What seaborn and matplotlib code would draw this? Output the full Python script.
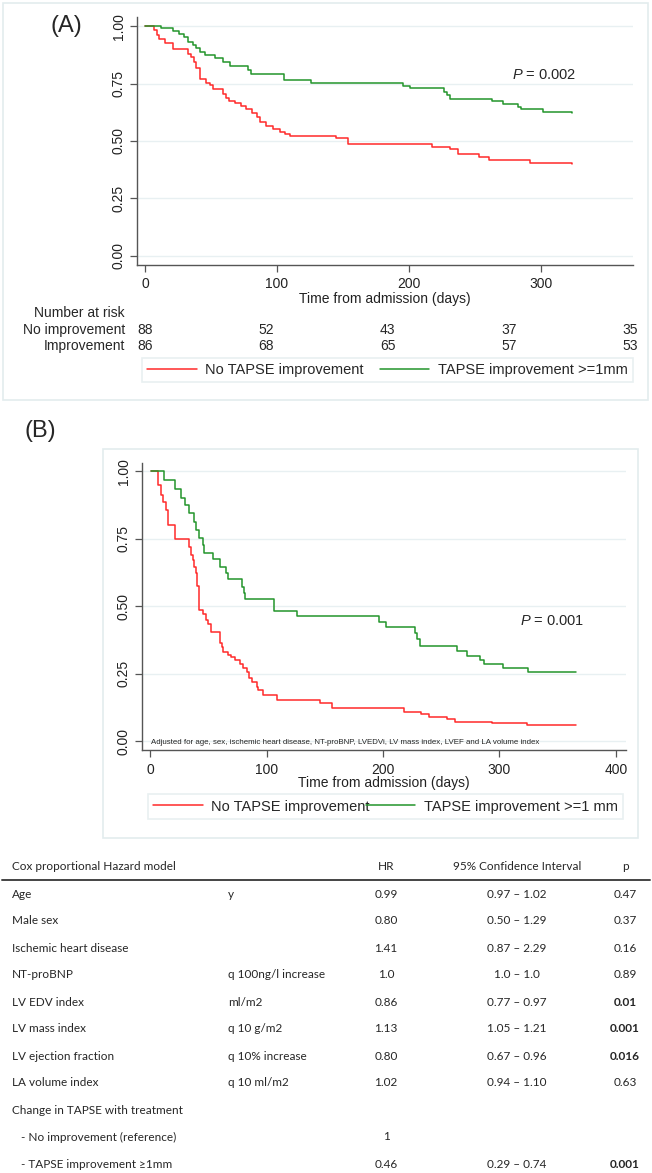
import matplotlib
matplotlib.use("Agg")
import matplotlib.pyplot as plt
import matplotlib.transforms as mtrans
from matplotlib.patches import Rectangle
from matplotlib.lines import Line2D
import pandas as pd
import seaborn as sns

# ---- Panel A: unadjusted Kaplan-Meier estimates ----
a_no_t = [0, 6.8, 8.9, 11, 15, 21, 33, 35, 37, 39, 42, 46, 49, 51.5, 59.5, 61.5, 63.5,
          68, 73, 77, 81, 85, 87, 92, 97, 102.5, 106.5, 110, 145, 154, 218, 231.5,
          237.5, 253, 260.5, 292, 324]
a_no_s = [1.0, 0.983, 0.96, 0.946, 0.925, 0.899, 0.881, 0.864, 0.845, 0.816, 0.768,
          0.754, 0.742, 0.725, 0.704, 0.686, 0.675, 0.664, 0.652, 0.638, 0.623, 0.606,
          0.584, 0.565, 0.551, 0.540, 0.530, 0.522, 0.512, 0.487, 0.475, 0.464, 0.442,
          0.432, 0.417, 0.406, 0.400]
a_yes_t = [0, 12, 21, 26, 30, 33, 36.5, 39, 41.6, 45.4, 53, 59.2, 64.3, 78.2, 80.7,
           105.5, 125.8, 195.6, 201, 227, 229, 231.5, 263, 271.6, 283, 285, 302, 324]
a_yes_s = [1.0, 0.99, 0.979, 0.968, 0.954, 0.933, 0.917, 0.903, 0.888, 0.874, 0.860,
           0.845, 0.826, 0.809, 0.791, 0.765, 0.754, 0.740, 0.729, 0.715, 0.700, 0.683,
           0.674, 0.661, 0.650, 0.638, 0.625, 0.620]

risk_times = [0, 92, 184, 276, 368]
risk_no = [88, 52, 43, 37, 35]
risk_yes = [86, 68, 65, 57, 53]

# ---- Panel B: adjusted curves ----
b_no_t = [0.9, 7.2, 9.2, 11.4, 13.7, 15.2, 21.5, 33.5, 34.9, 36.6, 38.1, 39.5, 40.1,
          42.3, 45.8, 47.8, 50.1, 52.4, 60.1, 61.5, 62.9, 67.2, 69.2, 73, 77.3, 80.1,
          83, 85.3, 87.3, 91.6, 93, 97.3, 108.7, 145.9, 155.9, 218, 232.3, 239.7,
          254.6, 261.8, 293.3, 323.9, 366]
b_no_s = [1.0, 0.948, 0.913, 0.886, 0.856, 0.80, 0.747, 0.720, 0.689, 0.670, 0.645,
          0.621, 0.574, 0.485, 0.470, 0.450, 0.435, 0.404, 0.364, 0.348, 0.331, 0.319,
          0.312, 0.300, 0.285, 0.269, 0.257, 0.232, 0.220, 0.201, 0.188, 0.170, 0.152,
          0.140, 0.121, 0.109, 0.100, 0.088, 0.080, 0.072, 0.066, 0.058, 0.058]
b_yes_t = [0.9, 12, 21.5, 26.3, 30, 33.8, 37.8, 39.5, 42.3, 45.2, 46.4, 53.9, 60.2,
           65.4, 66.5, 78.8, 80.3, 81.7, 106, 126, 196.8, 202.5, 227.4, 229.5, 231.6,
           263.7, 272.3, 283.2, 286.6, 303.2, 324.6, 366]
b_yes_s = [1.0, 0.967, 0.933, 0.902, 0.874, 0.843, 0.812, 0.781, 0.751, 0.726, 0.698,
           0.673, 0.643, 0.621, 0.599, 0.572, 0.547, 0.528, 0.483, 0.463, 0.442, 0.423,
           0.399, 0.377, 0.352, 0.335, 0.317, 0.300, 0.287, 0.270, 0.256, 0.256]

# ---- Cox model table ----
cox_vars = ["Age", "Male sex", "Ischemic heart disease", "NT-proBNP", "LV EDV index",
            "LV mass index", "LV ejection fraction", "LA volume index",
            "Change in TAPSE with treatment", "- No improvement (reference)",
            "- TAPSE improvement \u22651mm"]
cox_units = ["y", "", "", "q 100ng/l increase", "ml/m2", "q 10 g/m2",
             "q 10% increase", "q 10 ml/m2", "", "", ""]
cox_hr = ["0.99", "0.80", "1.41", "1.0", "0.86", "1.13", "0.80", "1.02", "", "1", "0.46"]
cox_ci = ["0.97 \u2013 1.02", "0.50 \u2013 1.29", "0.87 \u2013 2.29", "1.0 \u2013 1.0",
          "0.77 \u2013 0.97", "1.05 \u2013 1.21", "0.67 \u2013 0.96", "0.94 \u2013 1.10",
          "", "", "0.29 \u2013 0.74"]
cox_p = ["0.47", "0.37", "0.16", "0.89", "0.01", "0.001", "0.016", "0.63", "", "", "0.001"]

LBL_NO = "No TAPSE improvement"
RED = "#ff2a2a"
GREEN = "#23952b"
FRAME = "#e3ecee"
GRID = "#e8f0f2"
SPINE = "#555555"

sns.set_theme(style="white")
plt.rcParams["font.family"] = ["Liberation Sans", "DejaVu Sans"]
plt.rcParams["mathtext.fontset"] = "custom"
plt.rcParams["mathtext.it"] = "Liberation Sans:italic"
plt.rcParams["mathtext.rm"] = "Liberation Sans"

W, H = 652, 1173
fig = plt.figure(figsize=(W / 100, H / 100), dpi=100)
fig.patch.set_facecolor("white")


def fx(x):
    return x / W


def fy(y):
    return 1 - y / H


def rect(x0, y0, x1, y1):
    return [fx(x0), fy(y1), (x1 - x0) / W, (y1 - y0) / H]


def frame(x0, y0, x1, y1):
    fig.patches.append(Rectangle((fx(x0), fy(y1)), (x1 - x0) / W, (y1 - y0) / H,
                                 transform=fig.transFigure, fill=False, ec=FRAME, lw=1.2))


def km_axes(r, curves, labels, xlim, ylim, xticks):
    ax = fig.add_axes(r)
    df = pd.concat([pd.DataFrame({"t": t, "s": s, "group": g})
                    for g, t, s in zip(labels, curves[0::2], curves[1::2])])
    sns.lineplot(data=df, x="t", y="s", hue="group", palette=[RED, GREEN],
                 estimator=None, sort=False, drawstyle="steps-post", lw=1.1,
                 legend=False, ax=ax)
    ax.set_xlim(*xlim)
    ax.set_ylim(*ylim)
    ax.set_xticks(xticks)
    ax.set_yticks([0, 0.25, 0.5, 0.75, 1.0])
    ax.set_yticklabels(["0.00", "0.25", "0.50", "0.75", "1.00"], rotation=90, va="center")
    ax.grid(axis="y", color=GRID, lw=1)
    ax.set_axisbelow(True)
    for s in ["top", "right"]:
        ax.spines[s].set_visible(False)
    for s in ["left", "bottom"]:
        ax.spines[s].set_color(SPINE)
        ax.spines[s].set_linewidth(1)
    ax.tick_params(axis="both", bottom=True, left=True, direction="out", length=5,
                   width=0.9, color=SPINE, labelsize=10, labelcolor="#222222")
    ax.tick_params(axis="y", pad=3)
    ax.tick_params(axis="x", pad=4)
    ax.set_xlabel("Time from admission (days)", fontsize=10, labelpad=0, color="#222222")
    ax.set_ylabel("")
    return ax


def legend(box, lbl_yes):
    handles = [Line2D([], [], color=RED, lw=1.1), Line2D([], [], color=GREEN, lw=1.1)]
    x0, y0, x1, y1 = box
    lg = fig.legend(handles, [LBL_NO, lbl_yes], loc="center",
                    bbox_to_anchor=(fx(x0), fy(y1), (x1 - x0) / W, (y1 - y0) / H),
                    mode="expand", ncol=2, frameon=True, fancybox=False,
                    fontsize=10.5, handlelength=3.4, handletextpad=0.6,
                    borderaxespad=0, borderpad=0.35)
    lg.get_frame().set_edgecolor(FRAME)
    lg.get_frame().set_linewidth(1.2)


# ================= Panel A =================
frame(3, 3, 648, 400)
fig.text(fx(66), fy(26), "(A)", fontsize=17, ha="center", va="center")
axA = km_axes(rect(137, 17, 633, 265), [a_no_t, a_no_s, a_yes_t, a_yes_s],
              ["no", "yes"], (-6, 370), (-0.04, 1.04), [0, 100, 200, 300])
axA.text(303, 0.787, "$P$ = 0.002", fontsize=10.5, ha="center", va="center")

trA = mtrans.blended_transform_factory(axA.transData, fig.transFigure)
fig.text(fx(125), fy(313), "Number at risk", ha="right", va="center", fontsize=10)
for row_y, lab, vals in [(330, "No improvement", risk_no), (346, "Improvement", risk_yes)]:
    fig.text(fx(125), fy(row_y), lab, ha="right", va="center", fontsize=10)
    for t, n in zip(risk_times, vals):
        axA.text(t, fy(row_y), str(n), transform=trA, ha="center", va="center", fontsize=10)
legend((142, 358, 633, 382), "TAPSE improvement >=1mm")

# ================= Panel B =================
frame(103, 449, 638, 838)
fig.text(fx(40), fy(431), "(B)", fontsize=17, ha="center", va="center")
axB = km_axes(rect(142, 463, 626, 750), [b_no_t, b_no_s, b_yes_t, b_yes_s],
              ["no", "yes"], (-6.9, 408.6), (-0.033, 1.03), [0, 100, 200, 300, 400])
axB.text(345, 0.444, "$P$ = 0.001", fontsize=10.5, ha="center", va="center")
axB.text(0.9, -0.007, "Adjusted for age, sex, ischemic heart disease, NT-proBNP, LVEDVi, "
         "LV mass index, LVEF and LA volume index", fontsize=5.7, ha="left", va="center")
legend((148, 794, 623, 819), "TAPSE improvement >=1 mm")

# ================= Table =================
TF = ["Lato", "DejaVu Sans"]
TFS = 8.5
col_x = [12, 228, 386, 517, 625]
hy = 866
fig.text(fx(col_x[0]), fy(hy), "Cox proportional Hazard model", family=TF, fontsize=TFS,
         ha="left", va="center")
fig.text(fx(col_x[2]), fy(hy), "HR", family=TF, fontsize=TFS, ha="center", va="center")
fig.text(fx(col_x[3]), fy(hy), "95% Confidence Interval", family=TF, fontsize=TFS,
         ha="center", va="center")
fig.text(fx(col_x[4]), fy(hy), "p", family=TF, fontsize=TFS, ha="center", va="center")
fig.add_artist(Line2D([fx(2), fx(650)], [fy(880), fy(880)], color="#444444", lw=1.4,
                      transform=fig.transFigure))

for i, (v, u, hr, ci, p) in enumerate(zip(cox_vars, cox_units, cox_hr, cox_ci, cox_p)):
    y = 894 + 27.0 * i
    indent = 9 if v.startswith("-") else 0
    fig.text(fx(col_x[0] + indent), fy(y), v, family=TF, fontsize=TFS, ha="left", va="center")
    fig.text(fx(col_x[1]), fy(y), u, family=TF, fontsize=TFS, ha="left", va="center")
    fig.text(fx(col_x[2]), fy(y), hr, family=TF, fontsize=TFS, ha="center", va="center")
    fig.text(fx(col_x[3]), fy(y), ci, family=TF, fontsize=TFS, ha="center", va="center")
    bold = p != "" and float(p) < 0.05
    fig.text(fx(col_x[4]), fy(y), p, family=TF, fontsize=TFS, ha="center", va="center",
             fontweight="bold" if bold else "normal")

fig.savefig("out.png", dpi=100)
plt.close(fig)
